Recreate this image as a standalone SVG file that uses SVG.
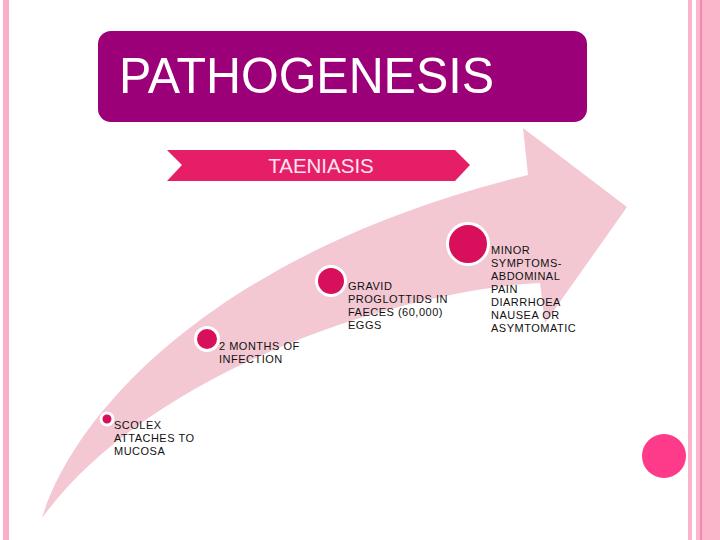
<svg xmlns="http://www.w3.org/2000/svg" width="720" height="540" viewBox="0 0 720 540">
<style>
.lbl{font-family:"Liberation Sans",Arial,sans-serif;font-size:11px;fill:#111;letter-spacing:0.5px}
.dot{fill:#D8105B;stroke:#ffffff;stroke-width:3}
</style>
<rect width="720" height="540" fill="#ffffff"/>
<rect x="3" y="0" width="6" height="540" fill="#F9AFC7"/>
<rect x="688" y="0" width="4" height="540" fill="#FBB3CA"/>
<rect x="696" y="0" width="24" height="540" fill="#FBB6CC"/>
<rect x="700" y="0" width="2" height="540" fill="#F08AAE"/>
<g id="arrow">
<path d="M42,518 C75,410 220,250 528,175 L523,128 L627,207 L545,323 L540,283 C400,290 150,370 42,518 Z" fill="#F3C8D2"/>
</g>
<g id="title">
<rect x="98" y="31" width="489" height="91" rx="13" fill="#9B0078"/>
<text x="119" y="93" font-family="&quot;Liberation Sans&quot;,Arial,sans-serif" font-size="50" fill="#ffffff" textLength="375" lengthAdjust="spacingAndGlyphs">PATHOGENESIS</text>
</g>
<g id="banner">
<polygon points="167,150 455,150 470,165 455,181 167,181 182,165" fill="#E61E68"/>
<text x="321" y="173" text-anchor="middle" font-family="&quot;Liberation Sans&quot;,Arial,sans-serif" font-size="20.5" fill="#FCE4F0">TAENIASIS</text>
</g>
<g id="n1">
<circle class="dot" cx="107" cy="419" r="6"/>
<text class="lbl" x="114" y="429">SCOLEX</text>
<text class="lbl" x="114" y="442">ATTACHES TO</text>
<text class="lbl" x="114" y="455">MUCOSA</text>
</g>
<g id="n2">
<circle class="dot" cx="207" cy="339" r="11.5"/>
<text class="lbl" x="219" y="350">2 MONTHS OF</text>
<text class="lbl" x="219" y="363">INFECTION</text>
</g>
<g id="n3">
<circle class="dot" cx="331" cy="281" r="14.5"/>
<text class="lbl" x="348" y="290">GRAVID</text>
<text class="lbl" x="348" y="303">PROGLOTTIDS IN</text>
<text class="lbl" x="348" y="316">FAECES (60,000)</text>
<text class="lbl" x="348" y="329">EGGS</text>
</g>
<g id="n4">
<circle class="dot" cx="468" cy="244" r="20.5"/>
<text class="lbl" x="491" y="254">MINOR</text>
<text class="lbl" x="491" y="267">SYMPTOMS-</text>
<text class="lbl" x="491" y="280">ABDOMINAL</text>
<text class="lbl" x="491" y="293">PAIN</text>
<text class="lbl" x="491" y="306">DIARRHOEA</text>
<text class="lbl" x="491" y="319">NAUSEA OR</text>
<text class="lbl" x="491" y="332">ASYMTOMATIC</text>
</g>
<circle cx="664" cy="456" r="22" fill="#FE3A8A"/>
</svg>
